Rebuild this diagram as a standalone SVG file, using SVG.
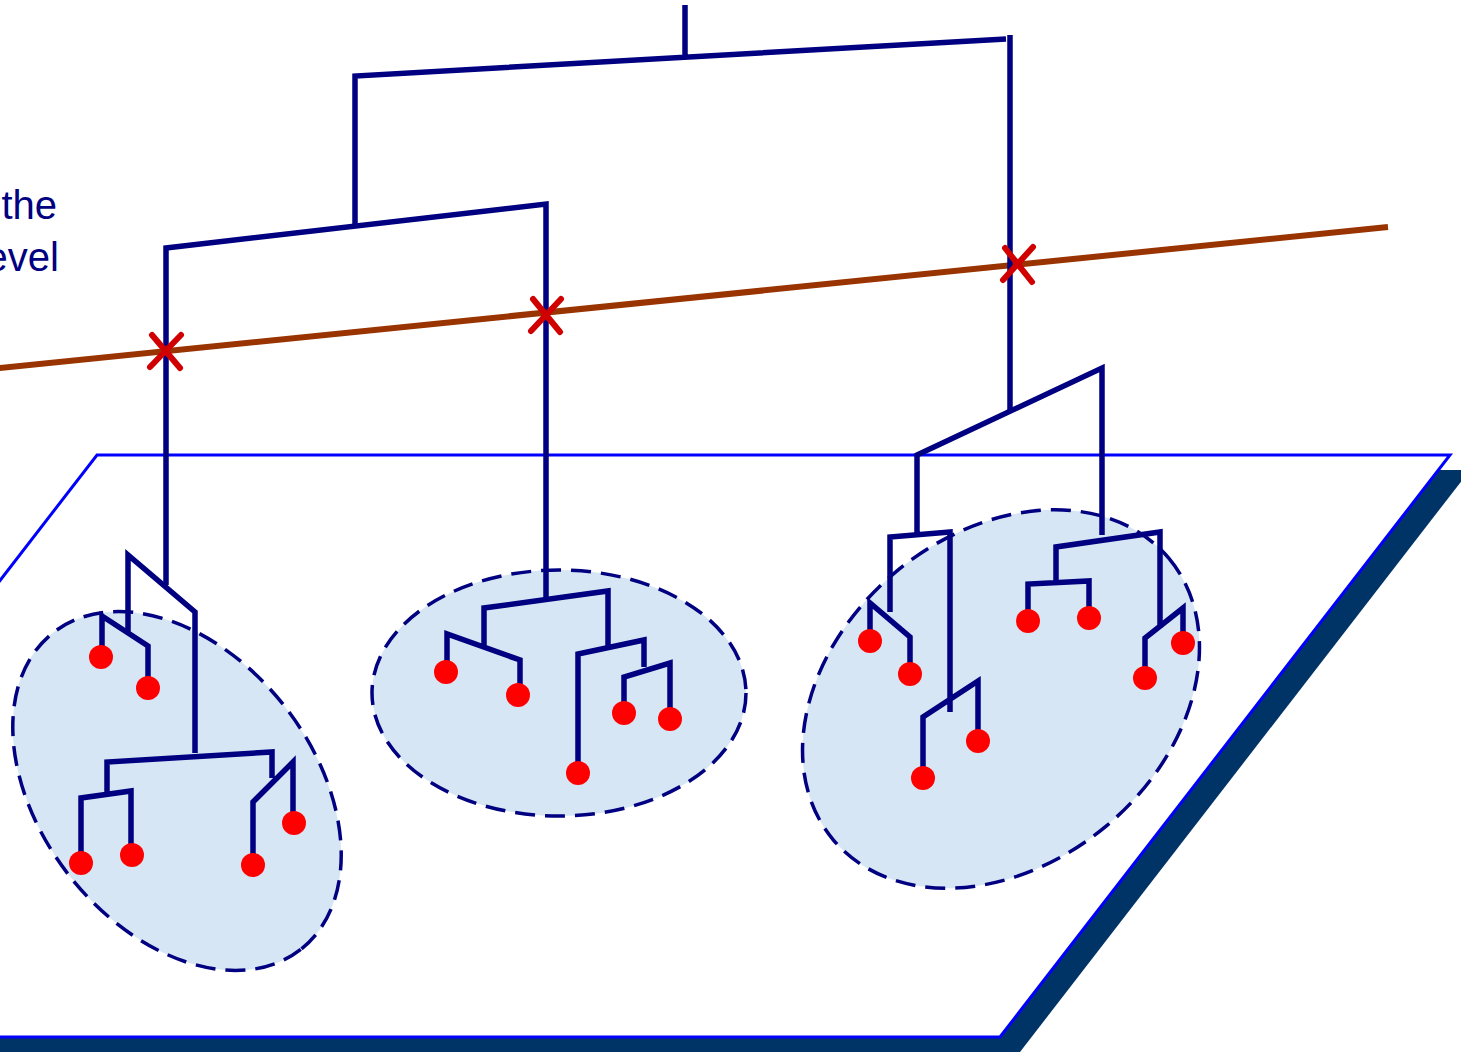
<svg xmlns="http://www.w3.org/2000/svg" width="1461" height="1054" viewBox="0 0 1461 1054">
<style>
.tree{fill:none;stroke:#000080;stroke-width:5.5;stroke-linejoin:miter;stroke-linecap:butt}
.leaf{fill:#FF0000}
.clu{fill:#D6E6F5;stroke:#000080;stroke-width:3.5;stroke-dasharray:20 10}
.cross{stroke:#D00000;stroke-width:6;stroke-linecap:round}
.lbl{font-family:"Liberation Sans",Arial,sans-serif;font-size:40px;fill:#000080;text-anchor:end}
</style>
<rect width="1461" height="1054" fill="#FFFFFF"/>
<g id="plane">
<polygon points="117,470 1470,470 1020,1052 -333,1052" fill="#003366"/>
<polygon points="97,455 1450,455 1000,1037 -353,1037" fill="#FFFFFF" stroke="#0000FF" stroke-width="3"/>
</g>
<g id="label">
<text class="lbl" x="57" y="219">the</text>
<text class="lbl" x="59" y="271">evel</text>
</g>
<g id="cut-line">
<line x1="-5" y1="368.5" x2="1388" y2="227" stroke="#993300" stroke-width="6"/>
</g>
<g id="cluster-left">
<ellipse class="clu" cx="177" cy="791" rx="201" ry="137" transform="rotate(52 177 791)"/>
<path class="tree" d="M128,632 V555 L195,612 V753 M107,797 V762 L272,752 V778 M102,656 V616 L148,646 V688 M81,863 V798 L131,791 V855 M253,865 V802 L293,762 V823"/>
<circle class="leaf" cx="101" cy="657" r="12"/>
<circle class="leaf" cx="148" cy="688" r="12"/>
<circle class="leaf" cx="81" cy="863" r="12"/>
<circle class="leaf" cx="132" cy="855" r="12"/>
<circle class="leaf" cx="253" cy="865" r="12"/>
<circle class="leaf" cx="294" cy="823" r="12"/>
</g>
<g id="cluster-middle">
<ellipse class="clu" cx="559" cy="693" rx="187" ry="123"/>
<path class="tree" d="M484,646 V608 L608,591 V646 M447,672 V634 L520,660 V695 M578,773 V654 L644,640 V667 M624,713 V677 L670,663 V719"/>
<circle class="leaf" cx="446" cy="672" r="12"/>
<circle class="leaf" cx="518" cy="695" r="12"/>
<circle class="leaf" cx="624" cy="713" r="12"/>
<circle class="leaf" cx="670" cy="719" r="12"/>
<circle class="leaf" cx="578" cy="773" r="12"/>
</g>
<g id="cluster-right">
<ellipse class="clu" cx="1001" cy="699" rx="219" ry="165" transform="rotate(-40 1001 699)"/>
<path class="tree" d="M917,535 V455 L1102,368 V535 M890,612 V537 L950,532 V712 M870,641 V603 L910,637 V674 M923,778 V717 L978,681 V741 M1056,584 V547 L1160,532 V628 M1028,621 V584 L1089,581 V618 M1145,678 V638 L1183,608 V643"/>
<circle class="leaf" cx="870" cy="641" r="12"/>
<circle class="leaf" cx="910" cy="674" r="12"/>
<circle class="leaf" cx="923" cy="778" r="12"/>
<circle class="leaf" cx="978" cy="741" r="12"/>
<circle class="leaf" cx="1028" cy="621" r="12"/>
<circle class="leaf" cx="1089" cy="618" r="12"/>
<circle class="leaf" cx="1145" cy="678" r="12"/>
<circle class="leaf" cx="1183" cy="643" r="12"/>
</g>
<g id="connectors">
<path class="tree" d="M685,5 V57 M355,224 V76 L1006,39 M1010,35 V412 M166,585 V248 L546,204 V598"/>
</g>
<g id="cut-marks">
<path class="cross" d="M152,335 L180,368 M181,335 L150,367"/>
<path class="cross" d="M533,299 L560,332 M561,299 L531,331"/>
<path class="cross" d="M1005,248 L1032,282 M1033,247 L1003,280"/>
</g>
</svg>
